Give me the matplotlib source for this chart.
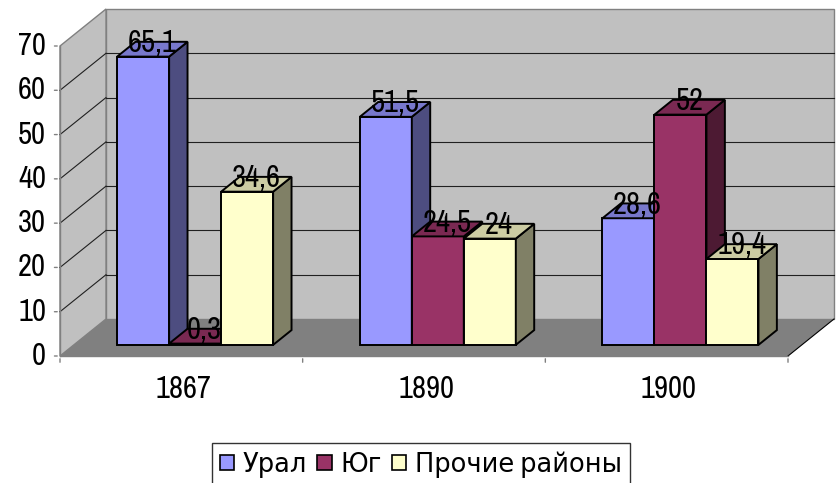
import matplotlib
matplotlib.use("Agg")
import matplotlib.pyplot as plt
from matplotlib import font_manager
from matplotlib.patches import Polygon, Patch

# =====================================================
# DATA
# =====================================================

years = ["1867", "1890", "1900"]
series = ["Урал", "Юг", "Прочие районы"]
ural = [65.1, 51.5, 28.6]
yug = [0.3, 24.5, 52.0]
prochie = [34.6, 24.0, 19.4]
value_labels = [
    ["65,1", "51,5", "28,6"],
    ["0,3", "24,5", "52"],
    ["34,6", "24", "19,4"],
]
y_ticks = [0, 10, 20, 30, 40, 50, 60, 70]

front_colors = ["#9999FF", "#993366", "#FFFFCC"]
side_colors = ["#4D4D80", "#4D1A33", "#808066"]
top_colors = ["#7878CC", "#7A2952", "#CCCCA3"]

# =====================================================
# FONT: narrow sans if one is installed
# =====================================================

fonts = font_manager.fontManager.ttflist
FAMILY, STRETCH, NARROW = "DejaVu Sans", "normal", False
for f in fonts:
    if "Narrow" in f.name:
        FAMILY, STRETCH, NARROW = f.name, "normal", True
        break
if not NARROW:
    wanted = [("condensed", "625"), ("semi-condensed", "750"), ("extra-condensed", "500")]
    for names in wanted:
        for fam in ["Noto Sans", "Open Sans", "Roboto", "DejaVu Sans", "Liberation Sans"]:
            for f in fonts:
                if f.name == fam and str(f.stretch) in names and f.style == "normal":
                    FAMILY, STRETCH, NARROW = fam, f.stretch, True
                    break
            if NARROW:
                break
        if NARROW:
            break

FS = 22 if NARROW else 16
FS_LEG = 18.5 if NARROW else 14
TXT = dict(family=[FAMILY, "DejaVu Sans"], fontstretch=STRETCH, color="black")

# =====================================================
# FIGURE / AXES (front plane of the 3D box)
# =====================================================

W, H = 839, 483
fig = plt.figure(figsize=(W / 100, H / 100), dpi=100)
ax = fig.add_axes([60 / W, (H - 356) / H, 728 / W, 310 / H])
ax.set_xlim(0, len(years))
ax.set_ylim(0, 70)
ax.axis("off")

# depth shear in data units
DX = 46 / (728 / len(years))
DY = 37 / (310 / 70)


def proj(x, y, d):
    return (x + d * DX, y + d * DY)


def face(pts, fc, ec, lw, z):
    ax.add_patch(Polygon([proj(*p) for p in pts], closed=True, facecolor=fc,
                         edgecolor=ec, linewidth=lw, zorder=z, clip_on=False,
                         joinstyle="miter"))


n = len(years)
ymax = y_ticks[-1]

# walls and floor
face([(0, 0, 1), (n, 0, 1), (n, ymax, 1), (0, ymax, 1)], "#C0C0C0", "#808080", 1.0, 1)
face([(0, 0, 0), (0, 0, 1), (0, ymax, 1), (0, ymax, 0)], "#C0C0C0", "#808080", 1.0, 1)
face([(0, 0, 0), (n, 0, 0), (n, 0, 1), (0, 0, 1)], "#808080", "none", 0, 2)

# gridlines
for t in y_ticks[1:-1]:
    xs, ys = zip(proj(0, t, 1), proj(n, t, 1))
    ax.plot(xs, ys, color="#202020", lw=0.8, zorder=3, clip_on=False)
    xs, ys = zip(proj(0, t, 0), proj(0, t, 1))
    ax.plot(xs, ys, color="#202020", lw=0.8, zorder=3, clip_on=False)

# floor edges
xs, ys = zip(proj(n, 0, 0), proj(n, 0, 1))
ax.plot(xs, ys, color="black", lw=0.8, zorder=3, clip_on=False)
ax.plot([0, n], [0, 0], color="#808080", lw=1.0, zorder=3, clip_on=False)

# axes lines and ticks
ax.plot([0, 0], [0, ymax], color="#808080", lw=1.0, zorder=3, clip_on=False)
for t in y_ticks:
    ax.annotate("", xy=(0, t), xytext=(-6, 0), textcoords="offset points",
                arrowprops=dict(arrowstyle="-", color="#808080", lw=1.0))
    ax.annotate(str(t), xy=(0, t), xytext=(-10, 0), textcoords="offset points",
                ha="right", va="center", fontsize=FS, **TXT)
for i in range(n + 1):
    ax.annotate("", xy=(i, 0), xytext=(0, -6.5), textcoords="offset points",
                arrowprops=dict(arrowstyle="-", color="#808080", lw=1.0))
for i, yr in enumerate(years):
    ax.annotate(yr, xy=(i + 0.5 + 0.05 * DX, 0), xytext=(0, -24),
                textcoords="offset points", ha="center", va="center",
                fontsize=FS, **TXT)

# =====================================================
# BARS
# =====================================================

values = [ural, yug, prochie]
bw = 52 / (728 / n)
d0, d1 = 0.3, 0.7
z = 10
for i in range(n):
    left0 = i + 0.5 - 1.5 * bw
    for s in range(len(series)):
        v = values[s][i]
        x0 = left0 + s * bw
        x1 = x0 + bw
        face([(x0, 0, d0), (x1, 0, d0), (x1, v, d0), (x0, v, d0)],
             front_colors[s], "black", 1.4, z)
        face([(x1, 0, d0), (x1, 0, d1), (x1, v, d1), (x1, v, d0)],
             side_colors[s], "black", 1.4, z)
        face([(x0, v, d0), (x1, v, d0), (x1, v, d1), (x0, v, d1)],
             top_colors[s], "black", 1.4, z)
        z += 1

for i in range(n):
    left0 = i + 0.5 - 1.5 * bw
    for s in range(len(series)):
        v = values[s][i]
        cx = left0 + (s + 0.5) * bw
        ax.annotate(value_labels[s][i], xy=proj(cx, v, 0.5), xytext=(0, 4.5),
                    textcoords="offset points", ha="center", va="center",
                    fontsize=FS, zorder=50, annotation_clip=False, **TXT)

# =====================================================
# LEGEND
# =====================================================

handles = [Patch(facecolor=c, edgecolor="black", linewidth=1.2) for c in front_colors]
leg = fig.legend(handles, series, loc="lower center", bbox_to_anchor=(421 / W, -0.005),
                 ncol=3, frameon=True, fancybox=False,
                 prop=font_manager.FontProperties(family=[FAMILY, "DejaVu Sans"],
                                                  stretch=STRETCH, size=FS_LEG),
                 handlelength=0.55, handleheight=0.55, handletextpad=0.35,
                 columnspacing=0.4, borderpad=0.3, borderaxespad=0.0)
leg.get_frame().set_edgecolor("black")
leg.get_frame().set_linewidth(1.0)

fig.savefig("out.png", dpi=100)
